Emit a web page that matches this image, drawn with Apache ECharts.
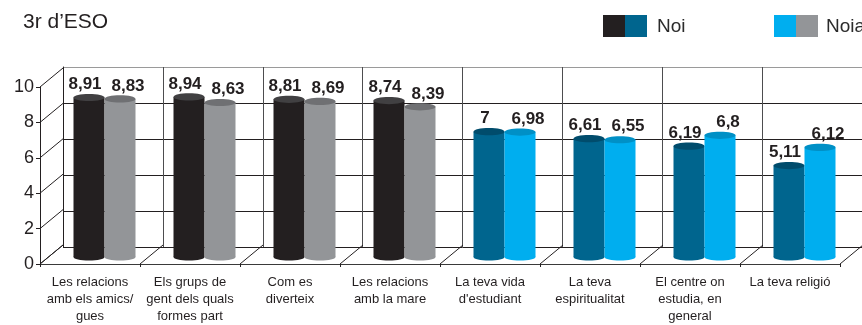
<!DOCTYPE html>
<html>
<head>
<meta charset="utf-8">
<script src="https://cdn.jsdelivr.net/npm/echarts@6/dist/echarts.min.js"></script>
<style>
  html, body { margin: 0; padding: 0; background: #ffffff; }
  #chart { width: 862px; height: 325px; }
</style>
</head>
<body>
<div id="chart"></div>
<script>
// Satisfaction scores, 3r d'ESO
const categories = [
  'Les relacions\namb els amics/\ngues',
  'Els grups de\ngent dels quals\nformes part',
  'Com es\ndiverteix',
  'Les relacions\namb la mare',
  'La teva vida\nd\'estudiant',
  'La teva\nespiritualitat',
  'El centre on\nestudia, en\ngeneral',
  'La teva religió'
];
const noiValues  = [8.91, 8.94, 8.81, 8.74, 7, 6.61, 6.19, 5.11];
const noiaValues = [8.83, 8.63, 8.69, 8.39, 6.98, 6.55, 6.8, 6.12];
const yTicks = [0, 2, 4, 6, 8, 10];

// Layout of the pseudo-3D box: front plane, back wall, and the plane the cylinders stand on
const FRONT = { left: 40, top: 87, width: 800, height: 179 };
const BACK  = { left: 63, top: 67, width: 800, height: 180 };
const MID   = { left: 54.5, top: 78, width: 800, height: 179 };
const DX = BACK.left - FRONT.left;
const DY = (BACK.top + BACK.height) - (FRONT.top + FRONT.height);

const INK = '#231f20';
const FIRST_GROUP = 4; // first four topics are drawn in black/grey, the rest in blues
const palette = {
  Noi:  [{ body: '#231f20', top: '#414042' }, { body: '#00658e', top: '#004c6c' }],
  Noia: [{ body: '#939598', top: '#6f7073' }, { body: '#00aeef', top: '#0090c6' }]
};

function fmt(v) { return String(v).replace('.', ','); }

function cylinderSeries(name, values, side, labelShift) {
  return {
    name: name,
    type: 'custom',
    xAxisIndex: 2,
    yAxisIndex: 2,
    clip: false,
    z: 10,
    data: values.map((v, i) => [i, v]),
    renderItem: function (params, api) {
      const i = api.value(0);
      const v = api.value(1);
      const band = api.size([1, 0])[0];
      const w = band * 0.31;
      const top = api.coord([i, v]);
      const base = api.coord([i, 0]);
      const cx = top[0] + side * w / 2;
      const ry = 3.6;
      const col = palette[name][i < FIRST_GROUP ? 0 : 1];
      return {
        type: 'group',
        children: [
          { type: 'ellipse', shape: { cx: cx, cy: base[1], rx: w / 2, ry: ry }, style: { fill: col.body } },
          { type: 'rect', shape: { x: cx - w / 2, y: top[1], width: w, height: base[1] - top[1] }, style: { fill: col.body } },
          { type: 'ellipse', shape: { cx: cx, cy: top[1], rx: w / 2, ry: ry }, style: { fill: col.top } },
          {
            type: 'text', x: cx + labelShift, y: top[1] - 13,
            style: {
              text: fmt(v), align: 'center', verticalAlign: 'middle',
              fontFamily: 'Liberation Sans', fontWeight: 'bold', fontSize: 17, fill: INK
            }
          }
        ]
      };
    }
  };
}

const chart = echarts.init(document.getElementById('chart'), null, { renderer: 'canvas' });

const option = {
  animation: false,
  backgroundColor: '#ffffff',
  title: {
    text: '3r d\u2019ESO',
    left: 18, top: 7,
    textStyle: { fontFamily: 'Liberation Sans', fontSize: 21, fontWeight: 'normal', color: INK }
  },
  graphic: [
    { type: 'rect', left: 603, top: 15, shape: { width: 22, height: 22 }, style: { fill: palette.Noi[0].body } },
    { type: 'rect', left: 625, top: 15, shape: { width: 22, height: 22 }, style: { fill: palette.Noi[1].body } },
    { type: 'text', left: 657, top: 17, style: { text: 'Noi', fontFamily: 'Liberation Sans', fontSize: 19, fill: '#2b2b2b' } },
    { type: 'rect', left: 774, top: 15, shape: { width: 22, height: 22 }, style: { fill: palette.Noia[1].body } },
    { type: 'rect', left: 796, top: 15, shape: { width: 22, height: 22 }, style: { fill: palette.Noia[0].body } },
    { type: 'text', left: 826, top: 17, style: { text: 'Noia', fontFamily: 'Liberation Sans', fontSize: 19, fill: '#2b2b2b' } }
  ],
  grid: [
    { left: BACK.left, top: BACK.top, width: BACK.width, height: BACK.height },
    { left: FRONT.left, top: FRONT.top, width: FRONT.width, height: FRONT.height },
    { left: MID.left, top: MID.top, width: MID.width, height: MID.height }
  ],
  xAxis: [
    {
      gridIndex: 0, type: 'category', data: categories,
      axisLine: { show: false }, axisTick: { show: false }, axisLabel: { show: false },
      splitLine: { show: true, interval: 0, lineStyle: { color: '#4d4d4f', width: 1 } }
    },
    {
      gridIndex: 1, type: 'category', data: categories,
      axisLine: { show: true, lineStyle: { color: '#3a3a3a', width: 1 } },
      axisTick: { show: true, interval: 0, length: 3, lineStyle: { color: INK } },
      axisLabel: {
        interval: 0, margin: 10, color: INK,
        fontFamily: 'Liberation Sans', fontSize: 13, lineHeight: 17
      },
      splitLine: { show: false }
    },
    {
      gridIndex: 2, type: 'category', data: categories,
      axisLine: { show: false }, axisTick: { show: false }, axisLabel: { show: false },
      splitLine: { show: false }
    }
  ],
  yAxis: [
    {
      gridIndex: 0, type: 'value', min: 0, max: 10, interval: 2,
      axisLine: { show: true, lineStyle: { color: INK } },
      axisTick: { show: false }, axisLabel: { show: false },
      splitLine: {
        show: true,
        lineStyle: { width: 1, color: [INK, INK, INK, INK, INK, '#9a9a9a'] }
      }
    },
    {
      gridIndex: 1, type: 'value', min: 0, max: 10, interval: 2,
      axisLine: { show: true, lineStyle: { color: INK } },
      axisTick: { show: true, length: 4, lineStyle: { color: INK } },
      axisLabel: { margin: 6, color: INK, fontFamily: 'Liberation Sans', fontSize: 18 },
      splitLine: { show: false }
    },
    {
      gridIndex: 2, type: 'value', min: 0, max: 10, interval: 2,
      axisLine: { show: false }, axisTick: { show: false }, axisLabel: { show: false },
      splitLine: { show: false }
    }
  ],
  series: [
    // side wall: diagonals joining the front axis ticks to the back wall
    {
      type: 'custom', xAxisIndex: 1, yAxisIndex: 1, clip: false, silent: true, z: 1,
      data: yTicks.map(v => [0, v]),
      renderItem: function (params, api) {
        const y = api.coord([0, api.value(1)])[1];
        const x = params.coordSys.x;
        return { type: 'line', shape: { x1: x, y1: y, x2: x + DX, y2: y + DY },
                 style: { stroke: INK, lineWidth: 1 } };
      }
    },
    // floor: diagonals at each category boundary
    {
      type: 'custom', xAxisIndex: 1, yAxisIndex: 1, clip: false, silent: true, z: 1,
      data: categories.map((c, k) => [k, 0]).concat([[categories.length, 0]]),
      renderItem: function (params, api) {
        const cs = params.coordSys;
        const x = cs.x + params.dataIndex * cs.width / categories.length;
        const y = cs.y + cs.height;
        return { type: 'line', shape: { x1: x, y1: y, x2: x + DX, y2: y + DY },
                 style: { stroke: INK, lineWidth: 1 } };
      }
    },
    cylinderSeries('Noi', noiValues, -1, -4),
    cylinderSeries('Noia', noiaValues, 1, 8)
  ]
};

chart.setOption(option);
</script>
</body>
</html>
